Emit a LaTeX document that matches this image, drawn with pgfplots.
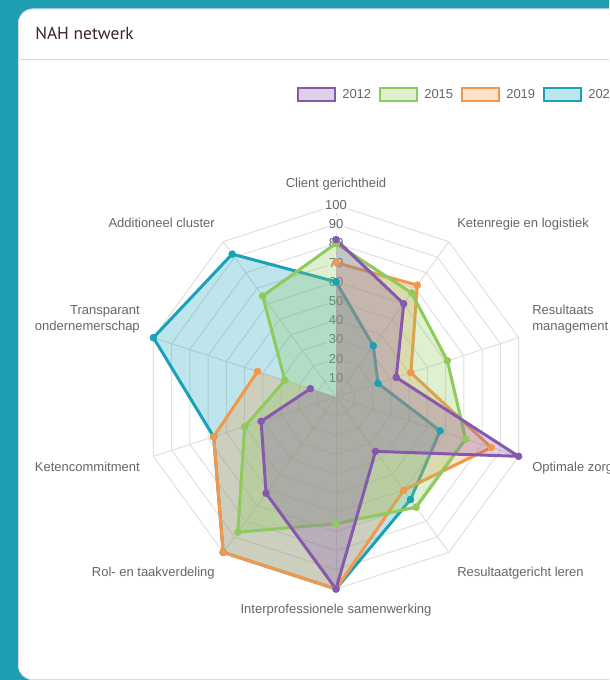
\documentclass[border=0pt]{standalone}
\usepackage{pgfplots}
\pgfplotsset{compat=1.18}
\usepackage{pgfplotstable}
\usepackage{fontspec}
\setmainfont{Liberation Sans}
\newfontfamily\titlefont{PT Sans}
\definecolor{bg}{HTML}{1E9DB3}
\definecolor{c12}{HTML}{8659AD}
\definecolor{c15}{HTML}{8ECB5C}
\definecolor{c19}{HTML}{F3974A}
\definecolor{c20}{HTML}{17A2B8}
\definecolor{txt}{HTML}{666666}
\definecolor{gridc}{HTML}{E0E0E0}
\definecolor{ttl}{HTML}{3D2329}

% idx: 0 Client gerichtheid, 1 Ketenregie en logistiek, 2 Resultaats management,
% 3 Optimale zorg, 4 Resultaatgericht leren, 5 Interprofessionele samenwerking,
% 6 Rol- en taakverdeling, 7 Ketencommitment, 8 Transparant ondernemerschap,
% 9 Additioneel cluster (no value for 2012 and 2019: fill goes to centre, no line);
% row 10 repeats row 0 to close the polygons
\pgfplotstableread{
idx a2012 a2015 a2019 a2020
0   82    80    70    60
1   60    67    72    33
2   33    61    41    23
3   100   71    85    57
4   35    71    60    66
5   100   66    100   100
6   62    87    100   100
7   41    50    67    67
8   14    28    43    100
9   0     65    0     92
10  82    80    70    60
}\radar

\pgfplotsset{
  radfill/.style={draw=none, fill=#1, fill opacity=0.28, forget plot},
  radline/.style={draw=#1, line width=2.25pt, line join=round,
    mark=*, mark size=2.6pt, mark options={fill=#1, draw=#1, line width=0.4pt}},
}

\begin{document}
\begin{tikzpicture}[x=0.75pt,y=-0.75pt, font=\fontsize{9.75}{11.7}\selectfont]
\useasboundingbox (0,0) rectangle (609,680);
\coordinate (ctr) at (336,397);
\begin{scope}
\clip (0,0) rectangle (609,680);
\fill[bg] (0,0) rectangle (609,680);
\draw[fill=white, draw=black!15, line width=0.75pt, rounded corners=10.5pt] (18.5,9) rectangle (700,679.5);
\draw[black!15, line width=0.75pt] (19,59.5) -- (609,59.5);
\node[anchor=base west, text=ttl, inner sep=0pt, font=\titlefont\fontsize{13.1}{15}\selectfont] at (35,39.3) {NAH netwerk};

% legend
\foreach \c/\lab [count=\i from 0] in {c12/2012, c15/2015, c19/2019, c20/2020} {
  \draw[\c, line width=1.8pt, fill=\c!28] ({298.2+82*\i},88.2) rectangle ({334.8+82*\i},100.8);
  \node[anchor=base west, inner sep=0pt, text=txt] at ({342+82*\i},99) {\lab};
}

% grid
\begin{scope}[shift={(336,397)}, x=1.44pt, y=1.44pt]
  \foreach \r in {10,20,...,100} {
    \draw[gridc, line width=0.75pt] (90:\r) \foreach \a in {54,18,...,-234} {-- (\a:\r)} -- cycle;
  }
  \foreach \a in {90,54,...,-234} \draw[gridc, line width=0.75pt] (0,0) -- (\a:100);
\end{scope}

% point labels
\begin{scope}[every node/.style={inner sep=0pt, text=txt}]
\node[anchor=base] at (336,187.5) {Client gerichtheid};
\node[anchor=base west] at (457,227.5) {Ketenregie en logistiek};
\node[anchor=base west] at (532,314.5) {Resultaats};
\node[anchor=base west] at (532,330.5) {management};
\node[anchor=base west] at (532,471.5) {Optimale zorg};
\node[anchor=base west] at (457,576.5) {Resultaatgericht leren};
\node[anchor=base] at (336,613.5) {Interprofessionele samenwerking};
\node[anchor=base east] at (215,576.5) {Rol- en taakverdeling};
\node[anchor=base east] at (140,471.5) {Ketencommitment};
\node[anchor=base east] at (140,314.5) {Transparant};
\node[anchor=base east] at (140,330.5) {ondernemerschap};
\node[anchor=base east] at (215,227.5) {Additioneel cluster};
\end{scope}

% tick labels with backdrop
\foreach \v in {10,20,...,100}
  \node[fill=white, fill opacity=0.75, text opacity=1, text=txt, inner xsep=1.5pt, inner ysep=0pt, minimum height=12.75pt] at (336,{397-1.92*\v}) {\v};

\begin{axis}[at={(ctr)}, anchor=center, x=1.44pt, y=1.44pt, hide axis,
  xmin=-100, xmax=100, ymin=-100, ymax=100, clip=false]
% 2020
\addplot[radfill=c20] table[x expr={\thisrow{a2020}*cos(90-36*\thisrow{idx})}, y expr={\thisrow{a2020}*sin(90-36*\thisrow{idx})}] {\radar};
\addplot[radline=c20] table[x expr={\thisrow{a2020}*cos(90-36*\thisrow{idx})}, y expr={\thisrow{a2020}*sin(90-36*\thisrow{idx})}] {\radar};
% 2019
\addplot[radfill=c19] table[x expr={\thisrow{a2019}*cos(90-36*\thisrow{idx})}, y expr={\thisrow{a2019}*sin(90-36*\thisrow{idx})}] {\radar};
\addplot[radline=c19, skip coords between index={9}{11}] table[x expr={\thisrow{a2019}*cos(90-36*\thisrow{idx})}, y expr={\thisrow{a2019}*sin(90-36*\thisrow{idx})}] {\radar};
% 2015
\addplot[radfill=c15] table[x expr={\thisrow{a2015}*cos(90-36*\thisrow{idx})}, y expr={\thisrow{a2015}*sin(90-36*\thisrow{idx})}] {\radar};
\addplot[radline=c15] table[x expr={\thisrow{a2015}*cos(90-36*\thisrow{idx})}, y expr={\thisrow{a2015}*sin(90-36*\thisrow{idx})}] {\radar};
% 2012
\addplot[radfill=c12] table[x expr={\thisrow{a2012}*cos(90-36*\thisrow{idx})}, y expr={\thisrow{a2012}*sin(90-36*\thisrow{idx})}] {\radar};
\addplot[radline=c12, skip coords between index={9}{11}] table[x expr={\thisrow{a2012}*cos(90-36*\thisrow{idx})}, y expr={\thisrow{a2012}*sin(90-36*\thisrow{idx})}] {\radar};
\end{axis}
\end{scope}
\end{tikzpicture}
\end{document}
